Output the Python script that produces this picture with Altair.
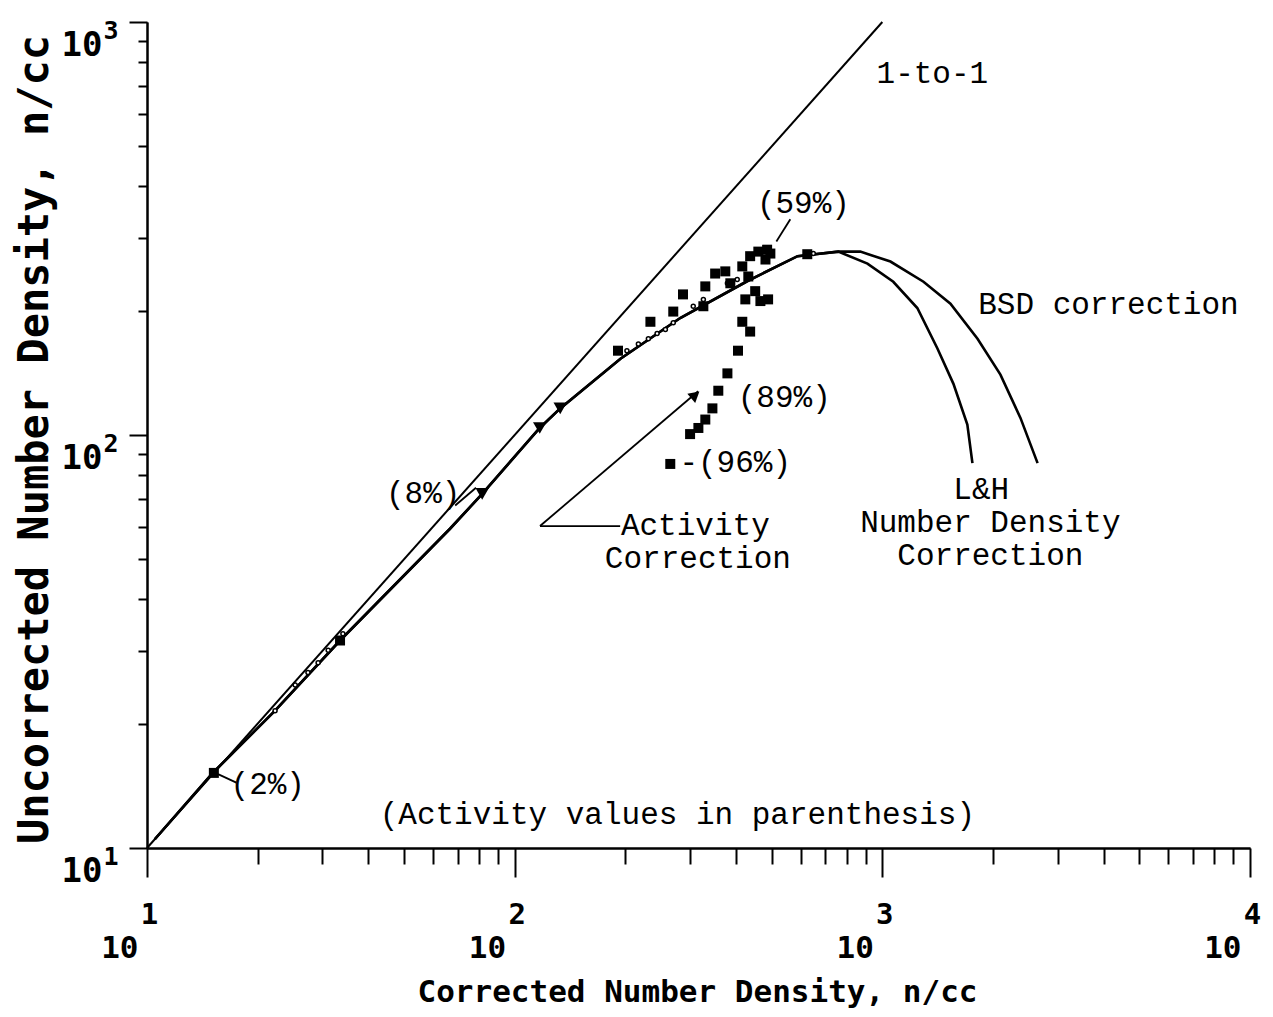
import altair as alt
import pandas as pd

# ---------------- data ----------------
one_x = [10, 1000]
one_y = [10, 1000]

# lower part shared by both correction curves
common_x = [10.5, 15.1, 22.3, 33.5, 66.7, 81.6, 117, 133, 194, 282, 430, 588, 759]
common_y = [10.5, 15.2, 21.5, 31.8, 59.3, 72.0, 104, 116, 153, 192, 236, 271, 278]
# BSD correction branch
bsd_tail_x = [871, 1052, 1294, 1532, 1815, 2095, 2375, 2644]
bsd_tail_y = [278, 263, 235, 208, 171, 140, 110, 85.5]
# L&H number density correction branch
lh_tail_x = [911, 1071, 1245, 1412, 1561, 1703, 1758]
lh_tail_y = [260, 235, 203, 162, 133, 106, 85.5]

# activity-corrected data (filled squares)
sq_x = [15.2, 33.5, 191, 234, 270, 287, 326, 330, 351, 374, 386, 416, 437, 460,
        481, 496, 432, 451, 466, 489, 424, 486, 625,
        416, 437, 405, 379, 358, 345, 330, 316, 300, 265]
sq_y = [15.2, 31.8, 160, 188, 199, 219, 205, 229, 246, 249, 233, 256, 271, 278,
        266, 275, 242, 223, 211, 213, 213, 281, 274,
        188, 178, 160, 141, 128, 116, 109, 104, 100.5, 85.1]

# triangles on the curve
tri_x = [81.6, 117, 133]
tri_y = [72.0, 104, 116]

# small open circles along the curve
circ_x = [22.3, 25.3, 27.4, 29.2, 31.1, 34.1, 202, 217, 231, 244, 257, 270, 306, 326, 379, 403, 649]
circ_y = [21.5, 24.8, 26.6, 28.1, 30.1, 33.0, 160, 166, 171, 176, 180, 187, 205, 213, 233, 238, 275]

# annotations
ann_text = ["1-to-1", "(59%)", "BSD correction", "(89%)", "-(96%)", "(8%)",
            "L&H", "Number Density", "Correction", "Activity", "Correction",
            "(2%)", "(Activity values in parenthesis)"]
ann_x = [1368, 610, 4121, 541, 398, 56.4, 1858, 1967, 1967, 310, 315, 21.3, 277]
ann_y = [748, 363, 207, 123, 85.5, 72.0, 73.6, 61.2, 51.0, 60.2, 50.1, 14.2, 12.0]

# leader lines / arrow shaft
seg_x = [117.2, 117.2, 68.9, 562, 15.6]
seg_y = [60.2, 60.2, 67.5, 333, 15.1]
seg_x2 = [315.5, 193.6, 78.5, 515, 17.5]
seg_y2 = [127.6, 60.2, 74.5, 294, 14.4]
arrow_x = [310]
arrow_y = [125]

# ticks
x_major = [10, 100, 1000, 10000]
x_minor = [20, 30, 40, 50, 60, 70, 80, 90,
           200, 300, 400, 500, 600, 700, 800, 900,
           2000, 3000, 4000, 5000, 6000, 7000, 8000, 9000]
y_major = [10, 100, 1000]
y_minor = [20, 30, 40, 50, 60, 70, 80, 90,
           200, 300, 400, 500, 600, 700, 800, 900]

# ---------------- tables ----------------
ref = pd.DataFrame(dict(x=one_x, y=one_y))
rows = []
for i, (a, b) in enumerate(zip(common_x + bsd_tail_x, common_y + bsd_tail_y)):
    rows.append(dict(x=a, y=b, s="BSD", o=i))
for i, (a, b) in enumerate(zip(common_x + lh_tail_x, common_y + lh_tail_y)):
    rows.append(dict(x=a, y=b, s="LH", o=i))
lines = pd.DataFrame(rows)

sq = pd.DataFrame(dict(x=sq_x, y=sq_y))
tri = pd.DataFrame(dict(x=tri_x, y=tri_y))
circ = pd.DataFrame(dict(x=circ_x, y=circ_y))
ann = pd.DataFrame(dict(t=ann_text, x=ann_x, y=ann_y))
seg = pd.DataFrame(dict(x=seg_x, y=seg_y, x2=seg_x2, y2=seg_y2))
arr = pd.DataFrame(dict(x=arrow_x, y=arrow_y))

xscale = alt.Scale(type="log", domain=[10, 10000], nice=False)
yscale = alt.Scale(type="log", domain=[10, 1000], nice=False)

AXFONT = "DejaVu Sans Mono"
EXP = "'' + round(log(datum.value)/LN10)"

# main axes: major ticks, mantissa "10", titles
x_main = alt.Axis(
    orient="bottom", values=x_major, labelExpr="'10'", title="Corrected Number Density, n/cc",
    tickSize=29, labelFont=AXFONT, labelFontWeight="bold", labelFontSize=31,
    labelAlign="right", labelBaseline="alphabetic", labelOffset=-9, labelPadding=80,
    labelFlush=False, labelOverlap=False,
    titleFont=AXFONT, titleFontWeight="bold", titleFontSize=31,
    titleX=550, titleY=153, titleAlign="center", titleBaseline="alphabetic",
)
y_main = alt.Axis(
    orient="left", values=y_major, labelExpr="'10'", title="Uncorrected Number Density, n/cc",
    tickSize=18, labelFont=AXFONT, labelFontWeight="bold", labelFontSize=34,
    labelAlign="right", labelBaseline="alphabetic", labelOffset=33, labelPadding=27,
    labelFlush=False, labelOverlap=False,
    titleFont=AXFONT, titleFontWeight="bold", titleFontSize=42,
    titleX=-113, titleY=417, titleAngle=270, titleAlign="center", titleBaseline="middle",
)
# minor tick axes
x_min = alt.Axis(orient="bottom", values=x_minor, tickSize=16, labels=False, title=None)
y_min = alt.Axis(orient="left", values=y_minor, tickSize=9, labels=False, title=None)
# exponent axes (labels only)
x_exp = alt.Axis(orient="bottom", values=x_major, labelExpr=EXP, ticks=False, tickSize=0, domain=False,
                 labelFont=AXFONT, labelFontWeight="bold", labelFontSize=29, labelAlign="center",
                 labelBaseline="alphabetic", labelOffset=2, labelPadding=75,
                 labelFlush=False, labelOverlap=False, title=None)
y_exp = alt.Axis(orient="left", values=y_major, labelExpr=EXP, ticks=False, tickSize=0, domain=False,
                 labelFont=AXFONT, labelFontWeight="bold", labelFontSize=25, labelAlign="left",
                 labelBaseline="alphabetic", labelOffset=16, labelPadding=44,
                 labelFlush=False, labelOverlap=False, title=None)

ref_layer = alt.Chart(ref).mark_line(color="black", strokeWidth=2.0).encode(
    x=alt.X("x:Q", scale=xscale, axis=x_main),
    y=alt.Y("y:Q", scale=yscale, axis=y_main),
)
line_layer = alt.Chart(lines).mark_line(color="black", strokeWidth=2.6).encode(
    x=alt.X("x:Q", scale=xscale, axis=None),
    y=alt.Y("y:Q", scale=yscale, axis=None),
    detail="s:N", order="o:Q",
)
sq_layer = alt.Chart(sq).mark_point(shape="square", filled=True, color="black", size=100, opacity=1).encode(
    x=alt.X("x:Q", scale=xscale, axis=x_min),
    y=alt.Y("y:Q", scale=yscale, axis=y_min),
)
tri_layer = alt.Chart(tri).mark_point(shape="triangle-down", filled=True, color="black", size=180, opacity=1).encode(
    x=alt.X("x:Q", scale=xscale, axis=x_exp),
    y=alt.Y("y:Q", scale=yscale, axis=y_exp),
)
circ_layer = alt.Chart(circ).mark_point(shape="circle", filled=True, fill="white", stroke="black",
                                        strokeWidth=1.5, size=16, opacity=1).encode(
    x=alt.X("x:Q", scale=xscale, axis=None), y=alt.Y("y:Q", scale=yscale, axis=None)
)
seg_layer = alt.Chart(seg).mark_rule(color="black", strokeWidth=1.8).encode(
    x=alt.X("x:Q", scale=xscale, axis=None), y=alt.Y("y:Q", scale=yscale, axis=None),
    x2="x2:Q", y2="y2:Q",
)
arr_layer = alt.Chart(arr).mark_point(shape="triangle-up", filled=True, color="black", size=150,
                                      angle=50, opacity=1).encode(
    x=alt.X("x:Q", scale=xscale, axis=None), y=alt.Y("y:Q", scale=yscale, axis=None)
)
txt_layer = alt.Chart(ann).mark_text(font="Liberation Mono", fontSize=31, color="black",
                                     align="center", baseline="middle").encode(
    x=alt.X("x:Q", scale=xscale, axis=None), y=alt.Y("y:Q", scale=yscale, axis=None), text="t:N"
)

chart = alt.layer(ref_layer, line_layer, seg_layer, arr_layer, circ_layer, sq_layer, tri_layer,
                  txt_layer).resolve_axis(
    x="independent", y="independent"
).properties(
    width=1103, height=826,
    autosize=alt.AutoSizeParams(type="none"),
    padding={"left": 139, "top": 14, "right": 15, "bottom": 161},
    background="white",
).configure_view(stroke=None).configure_axis(
    grid=False, domainColor="black", domainWidth=2, tickColor="black", tickWidth=2,
    labelColor="black", titleColor="black",
)

chart.save("out.html", embed_options={"renderer": "svg", "actions": False})
